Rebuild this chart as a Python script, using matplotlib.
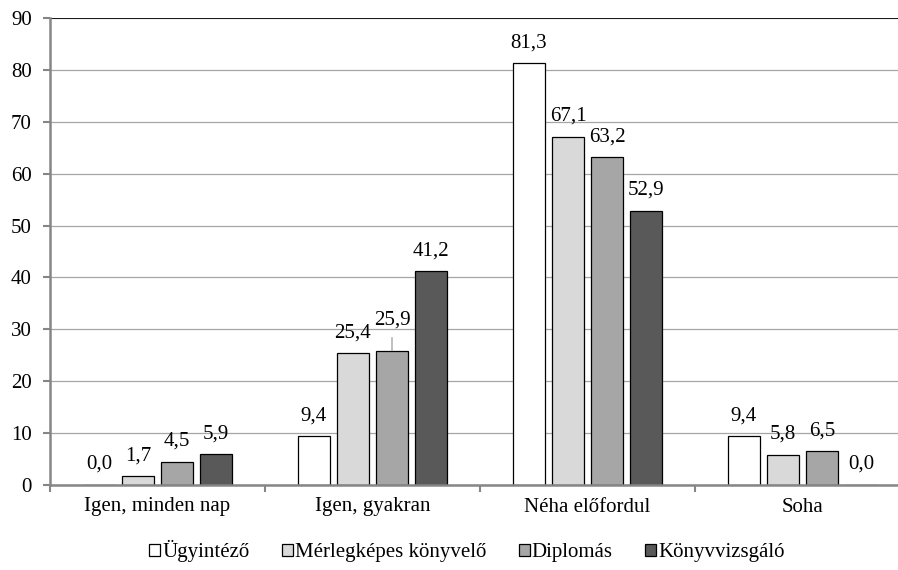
import numpy as np
import matplotlib
matplotlib.use('Agg')
import matplotlib.pyplot as plt
from matplotlib.ticker import FixedLocator

plt.rcParams['font.family'] = ['Liberation Serif', 'DejaVu Serif']

# ─── adatok ────────────────────────────────────────────────────────────────
categories = ['Igen, minden nap', 'Igen, gyakran', 'Néha előfordul', 'Soha']
series = ['Ügyintéző', 'Mérlegképes könyvelő', 'Diplomás', 'Könyvvizsgáló']
ugyintezo = [0.0, 9.4, 81.3, 9.4]
merlegkepes = [1.7, 25.4, 67.1, 5.8]
diplomas = [4.5, 25.9, 63.2, 6.5]
konyvvizsgalo = [5.9, 41.2, 52.9, 0.0]
yticks = [0, 10, 20, 30, 40, 50, 60, 70, 80, 90]

values = [ugyintezo, merlegkepes, diplomas, konyvvizsgalo]
colors = ['#ffffff', '#d9d9d9', '#a6a6a6', '#595959']
FS = 15

fig = plt.figure(figsize=(8.98, 5.70), dpi=100)
ax = fig.add_axes([50 / 898, 85 / 570, 860 / 898, 467 / 570])

x = np.arange(len(categories))
step = 0.1814
width = 0.146

handles = []
for j, (vals, col) in enumerate(zip(values, colors)):
    pos = x + (j - 1.5) * step
    bars = ax.bar(pos, vals, width, color=col, edgecolor='black',
                  linewidth=0.9, zorder=3, label=series[j])
    handles.append(bars)
    for xi, v in zip(pos, vals):
        lbl = f'{v:.1f}'.replace('.', ',')
        extra = 0
        if j == 2 and 0.5 < xi < 1.5:
            # 25,9 felemelve, vezetővonallal
            extra = 10
            ax.annotate('', xy=(xi, v), xytext=(0, 13),
                        textcoords='offset pixels',
                        arrowprops=dict(arrowstyle='-', color='#a6a6a6',
                                        lw=1.0, shrinkA=0, shrinkB=0))
        ax.annotate(lbl, xy=(xi, v), xytext=(0, 11 + extra),
                    textcoords='offset pixels', ha='center', va='bottom',
                    fontsize=FS, zorder=4)

ax.set_xlim(-0.5, 3.5)
ax.set_ylim(0, 90)
ax.set_yticks(yticks)
ax.set_yticklabels([str(t) for t in yticks], fontsize=FS)
ax.yaxis.grid(True, color='#a6a6a6', linewidth=0.9, zorder=0)
ax.axhline(90, color='black', linewidth=1.2, zorder=2)

ax.set_xticks(x)
ax.set_xticklabels(categories, fontsize=FS)
ax.tick_params(axis='x', which='major', length=0, pad=9)
ax.xaxis.set_minor_locator(FixedLocator([-0.5, 0.5, 1.5, 2.5, 3.5]))
ax.tick_params(axis='x', which='minor', length=5, width=1.5, color='#868686',
               direction='out')
ax.tick_params(axis='y', length=5, width=1.5, color='#868686', pad=8)

for s in ['top', 'right']:
    ax.spines[s].set_visible(False)
for s in ['left', 'bottom']:
    ax.spines[s].set_color('#868686')
    ax.spines[s].set_linewidth(1.8)
    ax.spines[s].set_zorder(5)

fig.legend(handles=handles, labels=series, loc='center',
           bbox_to_anchor=(467 / 898, 19 / 570), ncol=4, frameon=False,
           fontsize=FS, handlelength=0.53, handleheight=0.53,
           handletextpad=0.1, columnspacing=1.55)

fig.savefig('out.png', dpi=100)
